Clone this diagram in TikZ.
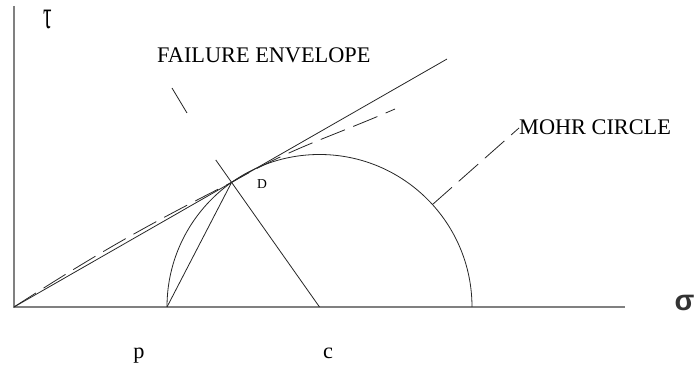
\documentclass[tikz,border=0pt]{standalone}
\usepackage{fontspec}
\setmainfont{Liberation Serif}
\newfontfamily\sigmafont{Liberation Sans}
\usetikzlibrary{calc}
\begin{document}
\begin{tikzpicture}[x=1pt,y=1pt,
  thinline/.style={draw=black!85, line width=0.8pt},
  axisline/.style={draw=black!50, line width=1.6pt},
  dashline/.style={thinline, dash pattern=on 26pt off 9pt},
  lbl/.style={inner sep=0pt, font=\fontsize{22.3pt}{26pt}\selectfont},
]
\useasboundingbox (0,0) rectangle (694,371);
% key points
\coordinate (O) at (14,64);
\coordinate (Ytop) at (14,365);
\coordinate (Xend) at (625,64);
\coordinate (C) at (319.5,64);
\coordinate (P) at (167,64);
\coordinate (R) at (472,64);
\coordinate (D) at ($(C)+(125.2:152.5)$);
\coordinate (S) at ($(O)!1.99!(D)$);
\coordinate (E) at (395,262);
\coordinate (N) at ($(C)!1.18!(D)$);
\coordinate (T1) at (172,283);
\coordinate (T2) at (187,258);
\coordinate (M1) at ($(C)+(42.2:152.5)$);
\coordinate (M2) at (519,243);
% axes
\draw[axisline] (Ytop) -- (O) -- (Xend);
% Mohr circle
\draw[thinline] (R) arc[start angle=0, end angle=180, radius=152.5];
% failure envelope (straight)
\draw[thinline] (O) -- (S);
% curved envelope (dashed)
\draw[dashline] (O) to[bend left=3] (D) to[out=30, in=203.6] (E);
% chords and radius
\draw[thinline] (P) -- (D);
\draw[thinline] (C) -- (N);
% failure envelope pointer
\draw[thinline] (T1) -- (T2);
% Mohr circle leader
\draw[dashline] (M1) -- (M2);
% labels
\node[lbl, anchor=base west] (fe) at (157,308) {FAILURE ENVELOPE};
\node[lbl, anchor=base west] (mc) at (519,236) {MOHR CIRCLE};
\node[inner sep=0pt, anchor=base, font=\fontsize{13.6pt}{16pt}\selectfont] (dl) at (262,182) {D};
\node[lbl, anchor=base] (pl) at (139,12) {p};
\node[lbl, anchor=base] (cl) at (328,12) {c};
\node[inner sep=0pt, text=black!80, font=\sigmafont\bfseries\fontsize{29pt}{32pt}\selectfont] (sig) at (684.5,68) {σ};
\node[inner sep=0pt, font=\fontsize{22.3pt}{26pt}\selectfont] (tau) at (48,352) {\scalebox{0.95}[1.8]{τ}};
\end{tikzpicture}
\end{document}
